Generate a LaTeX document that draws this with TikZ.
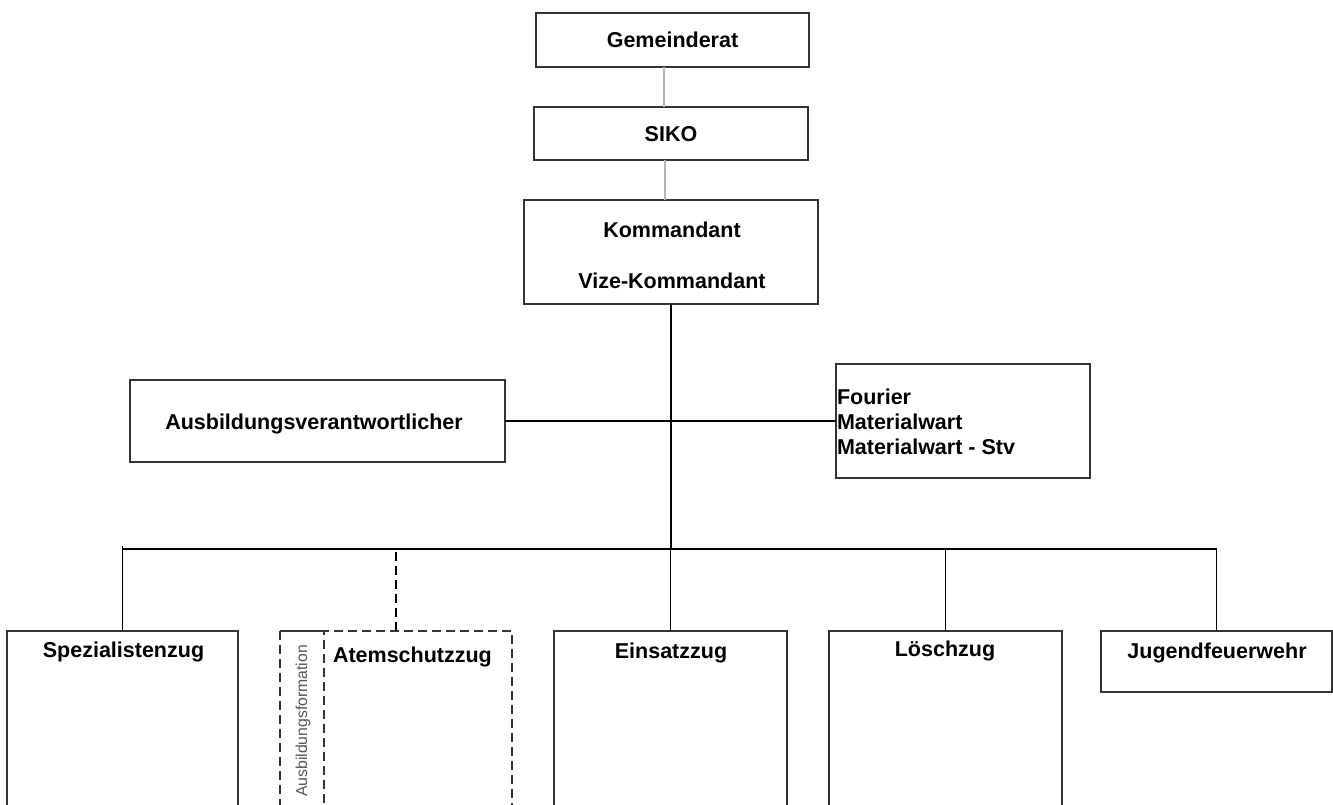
\documentclass[tikz,border=0pt]{standalone}
\usepackage{fontspec}
\setmainfont{Liberation Sans}
\usetikzlibrary{calc}
\definecolor{boxc}{HTML}{333333}
\definecolor{grayc}{HTML}{B4B4B4}
\definecolor{txtgray}{HTML}{555555}
\begin{document}
\begin{tikzpicture}[x=1pt,y=-1pt,
  box/.style={draw=boxc, line width=1.3pt, inner sep=0pt, outer sep=0pt},
  dbox/.style={box, dash pattern=on 9pt off 5pt},
  conn/.style={draw=black, line width=1.3pt},
  dconn/.style={conn, dash pattern=on 9pt off 5pt},
  gconn/.style={draw=grayc, line width=2pt},
  lbl/.style={font=\bfseries\fontsize{21.5}{25}\selectfont, inner sep=0pt, outer sep=0pt, text=black},
]
\useasboundingbox[fill=white] (0,0) rectangle (1333,805);

% top boxes
\node[box, minimum width=273pt, minimum height=54pt] (gem) at (672.5,40) {};
\node[lbl, anchor=base] (gemt) at (672.5,48) {Gemeinderat};
\node[box, minimum width=274pt, minimum height=53pt] (siko) at (671,133.5) {};
\node[lbl, anchor=base] (sikot) at (671,142) {SIKO};
\node[box, minimum width=294pt, minimum height=104pt] (kom) at (671,252) {};
\node[lbl, anchor=base] (komt1) at (672,237) {Kommandant};
\node[lbl, anchor=base] (komt2) at (672,288) {Vize-Kommandant};

% middle boxes
\node[box, minimum width=375pt, minimum height=82pt] (ausb) at (317.5,421) {};
\node[lbl, anchor=base] (ausbt) at (314,429) {Ausbildungsverantwortlicher};
\node[box, minimum width=254pt, minimum height=114pt] (four) at (963,421) {};
\node[lbl, anchor=north west, align=left] (fourt) at (837,388.5) {Fourier\\Materialwart\\Materialwart - Stv};

% bottom boxes
\node[box, minimum width=231pt, minimum height=175pt] (spez) at (122.5,718.5) {};
\node[lbl, anchor=base] (spezt) at (123.5,657) {Spezialistenzug};
\node[inner sep=0pt, outer sep=0pt, minimum width=44pt, minimum height=175pt] (ausbf) at (302,718.5) {};
\node[dbox, minimum width=188pt, minimum height=175pt] (atem) at (418,718.5) {};
\node[lbl, anchor=base west] (atemt) at (333,662) {Atemschutzzug};
\node[rotate=90, inner sep=0pt, font=\fontsize{15.8}{18}\selectfont, text=txtgray] (ausbft) at (303,721) {Ausbildungsformation};
\draw[box] (ausbf.north west) -- (ausbf.north east);
\draw[dbox] (ausbf.north west) -- (ausbf.south west);
\node[box, minimum width=233pt, minimum height=175pt] (einsatz) at (670.5,718.5) {};
\node[lbl, anchor=base] (einsatzt) at (671,658) {Einsatzzug};
\node[box, minimum width=233pt, minimum height=175pt] (loesch) at (945.5,718.5) {};
\node[lbl, anchor=base] (loescht) at (945,656) {Löschzug};
\node[box, minimum width=231pt, minimum height=61pt] (jugend) at (1216.5,661.5) {};
\node[lbl, anchor=base] (jugendt) at (1217,658) {Jugendfeuerwehr};

% connectors
\coordinate (g1) at ($(gem.south)+(-9,0)$);
\draw[gconn] (g1) -- (g1 |- siko.north);
\coordinate (s1) at ($(siko.south)+(-6,0)$);
\draw[gconn] (s1) -- (s1 |- kom.north);

\coordinate (busL) at (spez.north |- 0,549);
\coordinate (busR) at (jugend.north |- 0,549);
\draw[conn] (kom.south) -- (kom.south |- busL);
\draw[conn] (ausb.east) -- (four.west);
\draw[conn] (busL) -- (busR);
\draw[conn] (spez.north) -- ($(busL)+(0,-3)$);
\draw[conn] (einsatz.north) -- (einsatz.north |- busL);
\draw[conn] (loesch.north) -- (loesch.north |- busL);
\draw[conn] (jugend.north) -- (busR);
\coordinate (atop) at ($(ausbf.north west)!0.5!(atem.north east)$);
\draw[dconn] (atop) -- (atop |- busL);
\end{tikzpicture}
\end{document}
